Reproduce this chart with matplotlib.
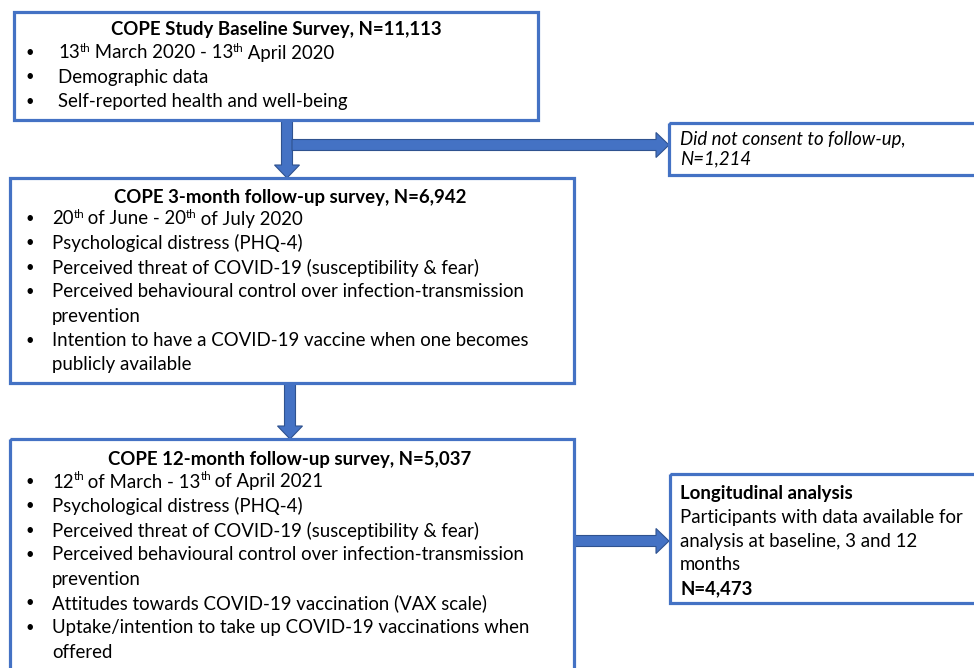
import matplotlib
matplotlib.use("Agg")
import matplotlib.pyplot as plt
from matplotlib.patches import Rectangle

plt.rcParams['font.family'] = ['Lato', 'DejaVu Sans']

BLUE = '#4472C4'
DARK = '#2F528F'
FS = 13.45

# texte des boites ('^' marque un exposant: 13^th)
baseline_title = 'COPE Study Baseline Survey, N=11,113'
baseline_items = [
    ['13^th March 2020 - 13^th April 2020'],
    ['Demographic data'],
    ['Self-reported health and well-being'],
]
no_consent_lines = ['Did not consent to follow-up,', 'N=1,214']

m3_title = 'COPE 3-month follow-up survey, N=6,942'
m3_items = [
    ['20^th of June - 20^th of July 2020'],
    ['Psychological distress (PHQ-4)'],
    ['Perceived threat of COVID-19 (susceptibility & fear)'],
    ['Perceived behavioural control over infection-transmission', 'prevention'],
    ['Intention to have a COVID-19 vaccine when one becomes', 'publicly available'],
]

m12_title = 'COPE 12-month follow-up survey, N=5,037'
m12_items = [
    ['12^th of March - 13^th of April 2021'],
    ['Psychological distress (PHQ-4)'],
    ['Perceived threat of COVID-19 (susceptibility & fear)'],
    ['Perceived behavioural control over infection-transmission', 'prevention'],
    ['Attitudes towards COVID-19 vaccination (VAX scale)'],
    ['Uptake/intention to take up COVID-19 vaccinations when', 'offered'],
]

long_title = 'Longitudinal analysis'
long_lines = ['Participants with data available for',
              'analysis at baseline, 3 and 12',
              'months']
long_n = 'N=4,473'

fig = plt.figure(figsize=(9.74, 6.68), dpi=100)
ax = fig.add_axes([0, 0, 1, 1])
ax.set_xlim(0, 974)
ax.set_ylim(668, 0)
ax.axis('off')
renderer = fig.canvas.get_renderer()


def boite(x0, y0, x1, y1):
    ax.add_patch(Rectangle((x0, y0), x1 - x0, y1 - y0, fill=False,
                           edgecolor=BLUE, linewidth=2.3, zorder=3))


def fleche(x, y, dx, dy):
    ax.arrow(x, y, dx, dy, width=11, head_width=25, head_length=13,
             length_includes_head=True, facecolor=BLUE, edgecolor=DARK,
             linewidth=0.8, zorder=2)


def ligne_exposant(x, y, s):
    # texte normal + petits exposants, places a la main
    morceaux = s.split('^')
    for i, m in enumerate(morceaux):
        if i > 0:
            sup, m = m[:2], m[2:]
            t = ax.text(x, y - 5, sup, fontsize=FS * 0.62, va='center')
            x += t.get_window_extent(renderer).width - 1
        if m:
            t = ax.text(x, y, m.replace(' ', '\u00a0'), fontsize=FS, va='center')
            x += t.get_window_extent(renderer).width


def puces(items, y, x_bullet, x_text, step=24.3):
    for item in items:
        ax.text(x_bullet, y, '\u2022', fontsize=FS * 0.8, va='center', ha='center')
        for ligne in item:
            ligne_exposant(x_text, y, ligne)
            y += step


# baseline
boite(14, 12, 538, 120)
ax.text(276, 30, baseline_title, fontsize=FS, fontweight='bold', ha='center', va='center')
puces(baseline_items, 53, 30, 58)

# fleches du haut
fleche(287, 120, 0, 58)
fleche(292, 145, 377, 0)

boite(669, 123, 990, 175)
ax.text(680, 140, no_consent_lines[0], fontsize=FS, style='italic', va='center')
ax.text(680, 159, no_consent_lines[1], fontsize=FS, style='italic', va='center')

# 3 mois
boite(10, 178, 574, 383)
ax.text(290, 197, m3_title, fontsize=FS, fontweight='bold', ha='center', va='center')
puces(m3_items, 219, 30, 52)

fleche(290, 383, 0, 56)

# 12 mois
boite(10, 439, 574, 700)
ax.text(290, 460, m12_title, fontsize=FS, fontweight='bold', ha='center', va='center')
puces(m12_items, 482, 30, 52)

fleche(574, 541, 95, 0)

boite(670, 474, 990, 603)
ax.text(680, 493, long_title, fontsize=FS, fontweight='bold', va='center')
for i, ligne in enumerate(long_lines):
    ax.text(680, 517 + 24 * i, ligne, fontsize=FS, va='center')
ax.text(680, 589, long_n, fontsize=FS, fontweight='bold', va='center')

fig.savefig('out.png', dpi=100, facecolor='white')
